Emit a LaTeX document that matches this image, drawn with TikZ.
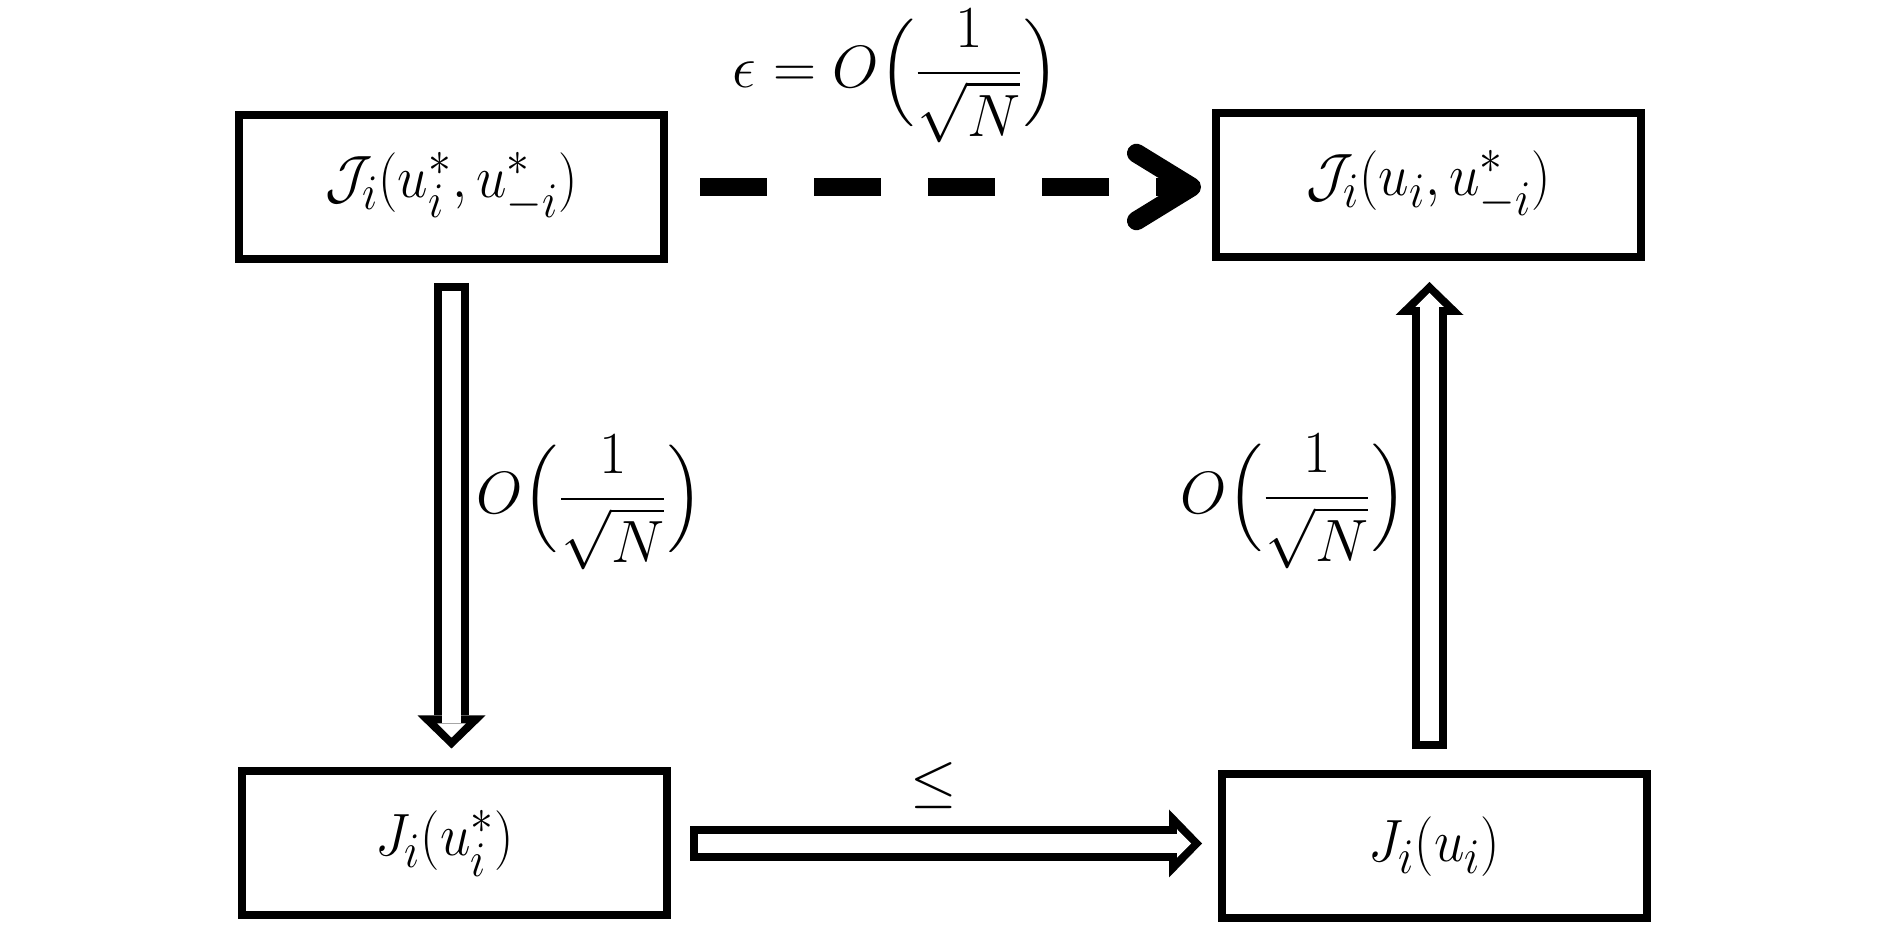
\documentclass[tikz,border=0pt]{standalone}
\usepackage{amsmath}
\usepackage{graphicx}
\usepackage{tikz}
\usetikzlibrary{arrows.meta}
\newcommand{\tx}[1]{\scalebox{1.366}{\Huge #1}}
\newcommand{\bx}[1]{\scalebox{1.25}[1.366]{\Huge #1}}

\begin{document}
\begin{tikzpicture}[
box/.style={draw,line width=0.16cm,minimum width=8.5cm,minimum height=2.88cm,inner sep=0pt},
lab/.style={inner sep=0pt},
hollowout/.style={line width=0.7cm,-{Triangle[length=0.66cm,width=1.36cm,line width=0pt]}},
hollowin/.style={white,line width=0.38cm,-{Triangle[length=0.28cm,width=0.57cm,line width=0pt]}},
dashline/.style={line width=0.36cm,dash pattern=on 1.34cm off 0.94cm,-{Straight Barb[round,length=1.1cm,width=1.35cm,line width=0.38cm]}}
]
\useasboundingbox (0,0) rectangle (37.8,18.5);
\node[box] (JStar) at (9.03,14.76) {\bx{$\mathcal{J}_i(u_i^*,u_{-i}^*)$}};
\node[box] (JDev) at (28.57,14.8) {\bx{$\mathcal{J}_i(u_i,u_{-i}^*)$}};
\node[box] (jStar) at (9.09,1.63) {\bx{$J_i(u_i^*)$}\hspace*{0.4cm}};
\node[box] (jDev) at (28.69,1.57) {\bx{$J_i(u_i)$}};
\coordinate (upfoot) at ([xshift=-0.1cm]jDev.north);
\draw[dashline][shorten <=0.64cm,shorten >=0.22cm](JStar.east)--(JStar.east -| JDev.west);
\node[lab] (eps) at (17.92,16.98) {\tx{$\epsilon=O\Bigl(\dfrac{1}{\sqrt{N}}\Bigr)$}};
\draw[hollowout][shorten <=0.4cm,shorten >=0.38cm](JStar.south)--(JStar.south |- jStar.north) node[lab,pos=0.474,right=0.15cm] (down) {\tx{$O\Bigl(\dfrac{1}{\sqrt{N}}\Bigr)$}};
\draw[hollowin][shorten <=0.56cm,shorten >=0.6cm](JStar.south)--(JStar.south |- jStar.north);
\draw[hollowout][shorten <=0.42cm,shorten >=0.42cm](upfoot)--(upfoot |- JDev.south) node[lab,pos=0.528,left=0.1cm] (up) {\tx{$O\Bigl(\dfrac{1}{\sqrt{N}}\Bigr)$}};
\draw[hollowin][shorten <=0.58cm,shorten >=0.64cm](upfoot)--(upfoot |- JDev.south);
\draw[hollowout][shorten <=0.38cm,shorten >=0.32cm](jStar.east)--(jStar.east -| jDev.west) node[lab,midway,above=0.34cm,xshift=-0.22cm] (leq) {\tx{$\leq$}};
\draw[hollowin][shorten <=0.54cm,shorten >=0.54cm](jStar.east)--(jStar.east -| jDev.west);
\end{tikzpicture}
\end{document}
